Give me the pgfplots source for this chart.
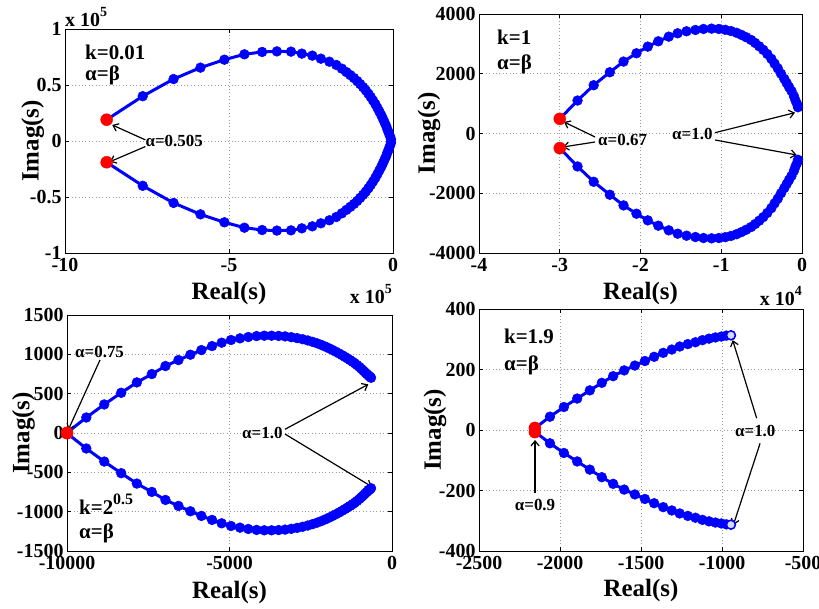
\documentclass[border=0pt]{standalone}
\usepackage{fontspec}
\setmainfont{Liberation Serif}
\usepackage{pgfplots}
\pgfplotsset{compat=1.18}
\usetikzlibrary{arrows.meta}
\pgfplotsset{
  mstyle/.style={
    scale only axis, clip=false,
    axis line style={line width=0.8bp},
    tick style={line width=0.8bp, black},
    major tick length=4bp,
    grid=major,
    major grid style={line width=0.7bp, gray!80, dash pattern=on 0.8bp off 2.6bp},
    tick label style={font=\fontsize{20}{20}\selectfont\bfseries},
    label style={font=\fontsize{25}{25}\selectfont\bfseries},
    /pgf/number format/assume math mode=true,
    scaled ticks=false,
    xticklabel style={yshift=-2bp},
    xlabel={Real(s)}, ylabel={Imag(s)},
  },
  bl/.style={blue, line width=3bp, mark=*, mark size=4.9bp, mark options={solid, fill=blue, draw=blue, line width=0.5bp}},
  rd/.style={only marks, mark=*, mark size=6bp, red, mark options={fill=red, draw=red}},
}
\tikzset{
  ann/.style={font=\fontsize{17}{17}\selectfont\bfseries, inner sep=0pt},
  big/.style={font=\fontsize{21}{21}\selectfont\bfseries, inner sep=0pt, anchor=west},
  arr/.style={-{Straight Barb[length=5bp,width=8bp]}, line width=1.2bp, black},
}
\newcommand{\mult}[1]{\fontsize{20}{20}\selectfont\bfseries x 10\raisebox{0.55em}{\fontsize{14}{14}\selectfont #1}}
\begin{document}
\begin{tikzpicture}[x=1bp,y=1bp]
\path[use as bounding box] (0,0) rectangle (819,609);

% ---------------- top left ----------------
\begin{axis}[mstyle, at={(65bp,356bp)}, anchor=south west, width=328bp, height=224bp,
  xmin=-10, xmax=0, ymin=-1, ymax=1,
  xtick={-10,-5,0}, xticklabels={-10,-5,0},
  ytick={-1,-0.5,0,0.5,1}, yticklabels={-1,-0.5,0,0.5,1},
  ylabel style={at={(axis description cs:-0.098,0.5)}, anchor=center},
  xlabel style={at={(axis description cs:0.5,-0.183)}, anchor=center}]
\addplot[bl] coordinates {(-8.73,0.19) (-7.63,0.40) (-6.69,0.553) (-5.87,0.655) (-5.14,0.726) (-4.53,0.774) (-3.99,0.795) (-3.54,0.80) (-3.11,0.798) (-2.78,0.78) (-2.46,0.762) (-2.20,0.735) (-1.94,0.708) (-1.73,0.679) (-1.56,0.646) (-1.42,0.615) (-1.30,0.588) (-1.19,0.562) (-1.09,0.535) (-1.00,0.508) (-0.91,0.480) (-0.83,0.452) (-0.75,0.422) (-0.68,0.393) (-0.61,0.362) (-0.54,0.330) (-0.48,0.298) (-0.42,0.265) (-0.36,0.232) (-0.31,0.200) (-0.26,0.168) (-0.21,0.135) (-0.17,0.103) (-0.13,0.072) (-0.09,0.042) (-0.06,0.015)};
\addplot[bl] coordinates {(-8.73,-0.19) (-7.63,-0.40) (-6.69,-0.553) (-5.87,-0.655) (-5.14,-0.726) (-4.53,-0.774) (-3.99,-0.795) (-3.54,-0.80) (-3.11,-0.798) (-2.78,-0.78) (-2.46,-0.762) (-2.20,-0.735) (-1.94,-0.708) (-1.73,-0.679) (-1.56,-0.646) (-1.42,-0.615) (-1.30,-0.588) (-1.19,-0.562) (-1.09,-0.535) (-1.00,-0.508) (-0.91,-0.480) (-0.83,-0.452) (-0.75,-0.422) (-0.68,-0.393) (-0.61,-0.362) (-0.54,-0.330) (-0.48,-0.298) (-0.42,-0.265) (-0.36,-0.232) (-0.31,-0.200) (-0.26,-0.168) (-0.21,-0.135) (-0.17,-0.103) (-0.13,-0.072) (-0.09,-0.042) (-0.06,-0.015)};
\addplot[rd] coordinates {(-8.73,0.19) (-8.73,-0.19)};
\node[big] at (axis cs:-9.39,0.795) {k=0.01};
\node[big] at (axis cs:-9.39,0.59) {α=β};
\node[ann, anchor=west] at (axis cs:-7.55,0) {α=0.505};
\draw[arr] (axis cs:-7.55,0.01) -- (axis cs:-8.56,0.143);
\draw[arr] (axis cs:-7.55,-0.05) -- (axis cs:-8.63,-0.185);
\end{axis}

% ---------------- top right ----------------
\begin{axis}[mstyle, at={(479bp,356bp)}, anchor=south west, width=323bp, height=239bp,
  xmin=-4, xmax=0, ymin=-4000, ymax=4000,
  xtick={-4,-3,-2,-1,0}, xticklabels={-4,-3,-2,-1,0},
  ytick={-4000,-2000,0,2000,4000}, yticklabels={-4000,-2000,0,2000,4000},
  ylabel style={at={(axis description cs:-0.155,0.5)}, anchor=center},
  xlabel style={at={(axis description cs:0.5,-0.1715)}, anchor=center}]
\addplot[bl] coordinates {(-3.00,490) (-2.78,1103) (-2.58,1616) (-2.38,2050) (-2.21,2407) (-2.05,2685) (-1.91,2908) (-1.78,3086) (-1.65,3242) (-1.54,3354) (-1.43,3421) (-1.32,3465) (-1.22,3499) (-1.12,3510) (-1.03,3499) (-0.95,3470) (-0.88,3430) (-0.81,3370) (-0.75,3300) (-0.69,3220) (-0.63,3130) (-0.58,3030) (-0.53,2920) (-0.48,2800) (-0.43,2660) (-0.38,2500) (-0.34,2340) (-0.30,2180) (-0.26,2000) (-0.22,1830) (-0.19,1690) (-0.16,1550) (-0.13,1420) (-0.10,1250) (-0.08,1100) (-0.06,980) (-0.05,880)};
\addplot[bl] coordinates {(-3.00,-490) (-2.78,-1103) (-2.58,-1616) (-2.38,-2050) (-2.21,-2407) (-2.05,-2685) (-1.91,-2908) (-1.78,-3086) (-1.65,-3242) (-1.54,-3354) (-1.43,-3421) (-1.32,-3465) (-1.22,-3499) (-1.12,-3510) (-1.03,-3499) (-0.95,-3470) (-0.88,-3430) (-0.81,-3370) (-0.75,-3300) (-0.69,-3220) (-0.63,-3130) (-0.58,-3030) (-0.53,-2920) (-0.48,-2800) (-0.43,-2660) (-0.38,-2500) (-0.34,-2340) (-0.30,-2180) (-0.26,-2000) (-0.22,-1830) (-0.19,-1690) (-0.16,-1550) (-0.13,-1420) (-0.10,-1250) (-0.08,-1100) (-0.06,-980) (-0.05,-880)};
\addplot[rd] coordinates {(-3.00,490) (-3.00,-490)};
\node[big] at (axis cs:-3.777,3230) {k=1};
\node[big] at (axis cs:-3.777,2300) {α=β};
\node[ann, anchor=west] at (axis cs:-2.526,-218) {α=0.67};
\node[ann, anchor=west] at (axis cs:-1.61,-17) {α=1.0};
\draw[arr] (axis cs:-2.563,-117) -- (axis cs:-2.947,385);
\draw[arr] (axis cs:-2.563,-285) -- (axis cs:-2.96,-452);
\draw[arr] (axis cs:-1.077,27) -- (axis cs:-0.087,697);
\draw[arr] (axis cs:-1.077,-218) -- (axis cs:-0.066,-720);
\end{axis}

% ---------------- bottom left ----------------
\begin{axis}[mstyle, at={(67bp,58bp)}, anchor=south west, width=325bp, height=236bp,
  xmin=-10000, xmax=0, ymin=-1500, ymax=1500,
  xtick={-10000,-5000,0}, xticklabels={-10000,-5000,0},
  ytick={-1500,-1000,-500,0,500,1000,1500}, yticklabels={-1500,-1000,-500,0,500,1000,1500},
  ylabel style={at={(axis description cs:-0.134,0.5)}, anchor=center},
  xlabel style={at={(axis description cs:0.5,-0.174)}, anchor=center}]
\addplot[bl] coordinates {(-10000,3) (-9406,197) (-8854,363) (-8332,511) (-7851,643) (-7390,749) (-6970,851) (-6571,927) (-6203,995) (-5865,1054) (-5537,1105) (-5241,1148) (-4954,1182) (-4678,1203) (-4422,1220) (-4166,1232) (-3930,1237) (-3705,1237) (-3490,1234) (-3290,1228) (-3100,1218) (-2920,1206) (-2750,1192) (-2590,1176) (-2440,1158) (-2300,1139) (-2170,1119) (-2050,1098) (-1940,1077) (-1830,1055) (-1730,1033) (-1630,1011) (-1540,990) (-1450,968) (-1370,948) (-1290,927) (-1210,905) (-1140,884) (-1070,862) (-1000,838) (-940,815) (-880,792) (-820,768) (-770,748) (-720,730) (-680,716) (-645,702)};
\addplot[bl] coordinates {(-10000,-3) (-9406,-197) (-8854,-363) (-8332,-511) (-7851,-643) (-7390,-749) (-6970,-851) (-6571,-927) (-6203,-995) (-5865,-1054) (-5537,-1105) (-5241,-1148) (-4954,-1182) (-4678,-1203) (-4422,-1220) (-4166,-1232) (-3930,-1237) (-3705,-1237) (-3490,-1234) (-3290,-1228) (-3100,-1218) (-2920,-1206) (-2750,-1192) (-2590,-1176) (-2440,-1158) (-2300,-1139) (-2170,-1119) (-2050,-1098) (-1940,-1077) (-1830,-1055) (-1730,-1033) (-1630,-1011) (-1540,-990) (-1450,-968) (-1370,-948) (-1290,-927) (-1210,-905) (-1140,-884) (-1070,-862) (-1000,-838) (-940,-815) (-880,-792) (-820,-768) (-770,-748) (-720,-730) (-680,-716) (-645,-702)};
\addplot[rd] coordinates {(-10000,3) (-10000,-3)};
\node[ann, anchor=west] at (axis cs:-9754,1030) {α=0.75};
\node[ann, anchor=west] at (axis cs:-4615,6) {α=1.0};
\node[font=\fontsize{21}{21}\selectfont\bfseries, inner sep=0pt, anchor=base west] at (axis cs:-9631,-1042) {k=2\raisebox{0.5em}{\fontsize{16}{16}\selectfont 0.5}};
\node[big] at (axis cs:-9631,-1270) {α=β};
\draw[arr] (axis cs:-8985,928) -- (axis cs:-9960,40);
\draw[arr] (axis cs:-3292,47) -- (axis cs:-729,619);
\draw[arr] (axis cs:-3292,-13) -- (axis cs:-625,-682);
\end{axis}

% ---------------- bottom right ----------------
\begin{axis}[mstyle, at={(479bp,58bp)}, anchor=south west, width=324bp, height=242bp,
  xmin=-2500, xmax=-500, ymin=-400, ymax=400,
  xtick={-2500,-2000,-1500,-1000,-500}, xticklabels={-2500,-2000,-1500,-1000,-500},
  ytick={-400,-200,0,200,400}, yticklabels={-400,-200,0,200,400},
  ylabel style={at={(axis description cs:-0.136,0.5)}, anchor=center},
  xlabel style={at={(axis description cs:0.5,-0.165)}, anchor=center}]
\addplot[bl] coordinates {(-2155,6) (-2062,44) (-1976,76) (-1894,104) (-1816,131) (-1742,156) (-1672,178) (-1604,197) (-1538,213) (-1476,228) (-1419,242) (-1363,255) (-1310,266) (-1261,276) (-1211,284) (-1164,290) (-1121,297) (-1080,302) (-1041,306) (-1004,309) (-973,312) (-945,313)};
\addplot[bl] coordinates {(-2155,-6) (-2062,-44) (-1976,-76) (-1894,-104) (-1816,-131) (-1742,-156) (-1672,-178) (-1604,-197) (-1538,-213) (-1476,-228) (-1419,-242) (-1363,-255) (-1310,-266) (-1261,-276) (-1211,-284) (-1164,-290) (-1121,-297) (-1080,-302) (-1041,-306) (-1004,-309) (-973,-312) (-945,-313)};
\addplot[only marks, mark=*, mark size=4.4bp, mark options={fill=blue!15, draw=blue, line width=1.4bp}] coordinates {(-945,313) (-945,-313)};
\addplot[rd] coordinates {(-2155,7) (-2155,-7)};
\node[big] at (axis cs:-2346,311) {k=1.9};
\node[big] at (axis cs:-2346,215) {α=β};
\node[ann, anchor=center] at (axis cs:-2154,-248) {α=0.9};
\node[ann, anchor=west] at (axis cs:-920,-3) {α=1.0};
\draw[arr] (axis cs:-2154,-208) -- (axis cs:-2154,-33);
\draw[arr] (axis cs:-786,39) -- (axis cs:-934,297);
\draw[arr] (axis cs:-765,-44) -- (axis cs:-930,-314);
\end{axis}

% multipliers
\node[anchor=base west, inner sep=0pt] at (65,582) {\mult{5}};
\node[anchor=base east, inner sep=0pt] at (392,305) {\mult{5}};
\node[anchor=base east, inner sep=0pt] at (802,303) {\mult{4}};
\end{tikzpicture}
\end{document}
